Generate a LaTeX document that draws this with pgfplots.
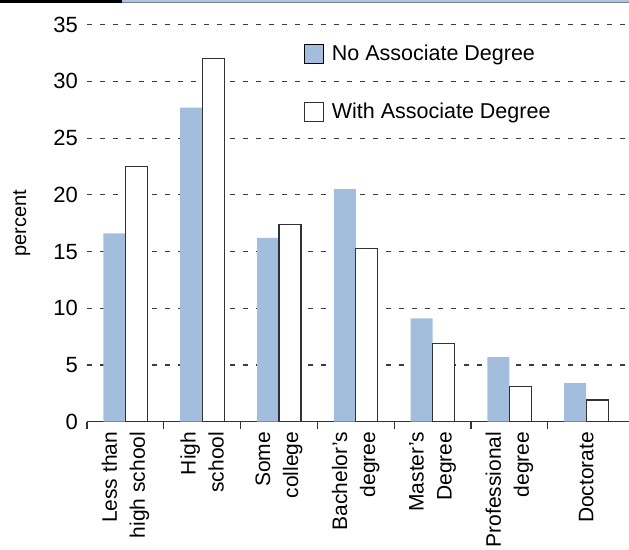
\documentclass[border=0pt]{standalone}
\usepackage{fontspec}
\setmainfont{Liberation Sans}
\usepackage{pgfplots}
\pgfplotsset{compat=1.18}
\definecolor{barblue}{RGB}{163,190,220}
\definecolor{edge}{RGB}{50,50,50}
\definecolor{gridgray}{RGB}{60,60,60}
\definecolor{headblue}{RGB}{170,198,228}

\begin{document}
\begin{tikzpicture}
\useasboundingbox (0,0) rectangle (629bp,550bp);
\begin{axis}[
  at={(87bp,128.3bp)}, anchor=south west,
  scale only axis, width=542bp, height=397bp,
  ybar=0pt, bar width=22bp,
  xmin=-0.5, xmax=6.557, ymin=0, ymax=35,
  enlargelimits=false, clip=false,
  ytick={0,5,...,35},
  axis x line*=bottom, axis y line*=left,
  y axis line style={draw=none},
  x axis line style={edge, line width=1.3bp},
  ymajorgrids,
  grid style={gridgray, line width=1.2bp, dash pattern=on 5bp off 8bp},
  tick align=outside, major tick length=0pt, minor tick length=7bp,
  major tick style={draw=none},
  minor tick style={edge, line width=1.2bp},
  yticklabel style={inner sep=0pt, xshift=-9bp, font=\fontsize{22bp}{26bp}\selectfont},
  /pgf/number format/assume math mode=true,
  xtick={0,1,2,3,4,5,6},
  minor xtick={-0.5,0.5,1.5,2.5,3.5,4.5,5.5},
  xticklabels={{Less than\\high school},{High\\school},{Some\\college},{Bachelor’s\\degree},{Master’s\\Degree},{Professional\\degree},{Doctorate}},
  xticklabel style={rotate=90, anchor=east, align=right, inner sep=0pt, xshift=-10bp,
      font=\fontsize{21bp}{28bp}\selectfont},
  ylabel={percent},
  ylabel style={at={(axis description cs:-0.1205,0.5)}, anchor=center,
    font=\fontsize{20bp}{24bp}\selectfont},
  legend style={at={(axis description cs:0.4004,0.951)}, anchor=north west,
    draw=none, fill=none, inner sep=0pt, outer sep=0pt,
    row sep=38bp, column sep=7.5bp, nodes={inner sep=0pt},
    font=\fontsize{21.5bp}{26bp}\selectfont},
  legend cell align=left,
  legend image code/.code={\draw[#1] (0bp,-9.5bp) rectangle (19bp,9.5bp);},
]
\addplot[fill=barblue, draw=none] coordinates
  {(0,16.6) (1,27.7) (2,16.2) (3,20.5) (4,9.1) (5,5.7) (6,3.4)};
\addplot[fill=white, draw=edge, line width=1.3bp] coordinates
  {(0,22.5) (1,32.0) (2,17.4) (3,15.3) (4,6.9) (5,3.1) (6,1.9)};
\legend{No Associate Degree, With Associate Degree}
\end{axis}
% header rule
\fill[black] (0,547bp) rectangle (122bp,550bp);
\fill[headblue] (122bp,547.5bp) rectangle (629bp,550bp);
\draw[gray, line width=0.6bp] (122bp,547.5bp) -- (629bp,547.5bp);
\end{tikzpicture}
\end{document}
